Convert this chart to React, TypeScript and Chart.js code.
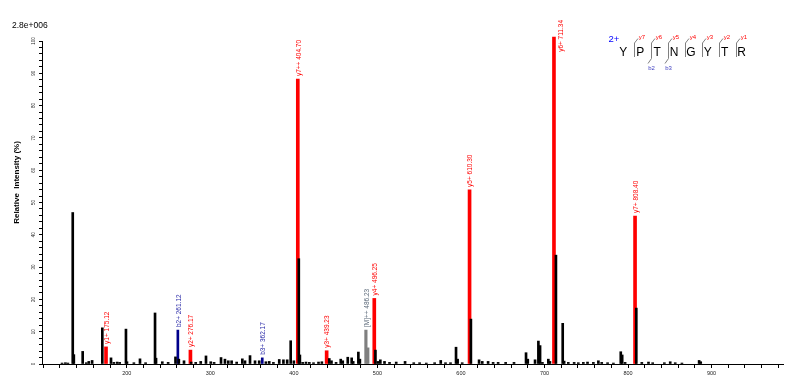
import React, { useEffect, useRef } from 'react';
import { Chart, registerables } from 'chart.js';

Chart.register(...registerables);

// ---- data ----
const otherMz = [122.5,126.5,129.5,135.3,136.6,147.2,151.5,154.5,158.5,170.7,
  181.1,184.5,188.5,191.5,199.0,200.2,208.5,215.8,222.5,233.8,
  235.0,242.5,249.5,258.3,262.3,268.5,277.0,282.5,288.5,294.8,
  300.5,304.5,312.8,317.5,321.5,325.5,331.5,338.3,341.5,347.5,
  353.5,358.5,366.5,370.5,375.5,382.5,387.5,392.0,396.2,400.0,
  405.9,407.2,410.5,414.5,418.5,423.5,429.5,433.5,442.4,445.0,
  450.5,456.1,458.5,464.5,469.2,471.0,477.2,479.0,497.6,500.5,
  503.5,508.5,514.5,522.5,533.1,543.5,550.5,558.5,568.5,575.8,
  581.5,587.5,594.1,596.0,601.5,611.9,621.7,625.5,632.5,638.5,
  644.5,653.5,663.5,677.9,680.0,688.7,692.7,694.7,697.5,704.6,
  706.5,713.7,721.8,723.5,728.5,735.5,740.5,746.5,751.5,758.5,
  764.5,768.5,775.5,782.5,791.3,793.0,796.5,809.9,816.5,824.5,
  829.5,843.5,850.5,856.5,864.5,885.1,887.0];
const otherIntensity = [0.3,0.4,0.3,46.9,2.9,3.9,0.4,0.8,1.1,11.2,
  1.9,0.5,0.6,0.5,10.8,0.7,0.4,1.6,0.4,15.8,
  1.8,0.7,0.5,2.2,1.5,1.0,0.6,0.5,0.8,2.5,
  0.7,0.5,2.0,1.5,1.0,1.0,0.6,1.6,1.0,2.6,
  1.0,1.0,0.7,0.8,0.5,1.4,1.3,1.3,7.2,1.0,
  32.6,2.8,0.5,0.6,0.5,0.4,0.6,0.7,1.7,1.0,
  0.5,1.5,1.0,2.1,1.9,0.8,3.7,1.5,4.3,0.8,
  1.3,0.8,0.5,0.6,0.8,0.4,0.4,0.3,0.4,1.1,
  0.4,0.4,5.2,1.5,0.4,13.9,1.3,0.8,0.8,0.5,
  0.5,0.5,0.5,3.5,1.5,1.3,7.1,5.7,0.5,1.5,
  0.8,33.7,12.6,0.9,0.5,0.5,0.4,0.5,0.6,0.5,
  1.0,0.5,0.4,0.3,3.8,2.8,0.5,17.3,0.5,0.6,
  0.4,0.4,0.7,0.4,0.3,1.1,0.7];

const yIonMz = [175.12, 276.17, 404.70, 439.23, 496.25, 610.30, 711.34, 808.40];
const yIonIntensity = [5.3, 4.3, 88.2, 4.1, 20.3, 53.9, 101.2, 45.8];
const yIonLabels = ['y1+ 175.12', 'y2+ 276.17', 'y7++ 404.70', 'y3+ 439.23', 'y4+ 496.25', 'y5+ 610.30', 'y6+ 711.34', 'y7+ 808.40'];

const bIonMz = [261.12, 362.17];
const bIonIntensity = [10.5, 1.9];
const bIonLabels = ['b2+ 261.12', 'b3+ 362.17'];

const precursorMz = [486.23, 488.5];
const precursorIntensity = [10.5, 5.0];
const precursorLabels = ['[M]++ 486.23', ''];

const xTickValues: number[] = [];
for (let v = 100; v <= 980; v += 20) xTickValues.push(v);
const yTickValues: number[] = [];
for (let v = 0; v <= 100; v += 2) yTickValues.push(v);

const sequence = ['Y', 'P', 'T', 'N', 'G', 'Y', 'T', 'R'];
const yFragNames = ['y7', 'y6', 'y5', 'y4', 'y3', 'y2', 'y1'];
const bFragNames: Record<number, string> = { 2: 'b2', 3: 'b3' };
const scaleLabel = '2.8e+006';
const yTitle = 'Relative  Intensity (%)';
const chargeLabel = '2+';

const FONT = '"Liberation Sans", Arial, sans-serif';

const toPoints = (mz: number[], it: number[]) => mz.map((m, i) => ({ x: m, y: it[i] }));

const annotPlugin = {
  id: 'annot',
  afterDatasetsDraw(chart: any) {
    const ctx = chart.ctx as CanvasRenderingContext2D;
    ctx.save();
    // peak labels
    chart.data.datasets.forEach((ds: any, di: number) => {
      const labels: string[] | undefined = ds.peakLabels;
      if (!labels) return;
      const meta = chart.getDatasetMeta(di);
      meta.data.forEach((el: any, j: number) => {
        const text = labels[j];
        if (!text) return;
        ctx.font = `6.5px ${FONT}`;
        const w = ctx.measureText(text).width;
        let x = el.x + 1;
        let start = el.y - 3;
        if (start - w < 16) {
          x = el.x + 7;
          start = 20 + w;
        }
        ctx.save();
        ctx.translate(x, start);
        ctx.rotate(-Math.PI / 2);
        ctx.fillStyle = ds.labelColor;
        ctx.textAlign = 'left';
        ctx.textBaseline = 'middle';
        ctx.fillText(text, 0, 0);
        ctx.restore();
      });
    });

    // scale label top-left
    ctx.font = `8.5px ${FONT}`;
    ctx.fillStyle = '#000';
    ctx.textAlign = 'left';
    ctx.textBaseline = 'middle';
    ctx.fillText(scaleLabel, 12, 25.5);

    // y title
    ctx.save();
    ctx.translate(17, 182.5);
    ctx.rotate(-Math.PI / 2);
    ctx.font = `bold 8px ${FONT}`;
    ctx.textAlign = 'center';
    ctx.textBaseline = 'middle';
    ctx.fillStyle = '#000';
    ctx.fillText(yTitle, 0, 0);
    ctx.restore();

    // peptide diagram
    const x0 = 623.3, dx = 16.9, ly = 52.5;
    ctx.font = `12px ${FONT}`;
    ctx.textAlign = 'center';
    ctx.textBaseline = 'middle';
    ctx.fillStyle = '#000';
    sequence.forEach((r, i) => ctx.fillText(r, x0 + i * dx, ly));
    ctx.font = `9.5px ${FONT}`;
    ctx.fillStyle = '#0000ff';
    ctx.fillText(chargeLabel, 614, 39);
    ctx.strokeStyle = '#808080';
    ctx.lineWidth = 1;
    for (let i = 1; i < sequence.length; i++) {
      const sx = Math.round(x0 + i * dx - 6) + 0.5;
      const hasB = bFragNames[i] !== undefined;
      ctx.beginPath();
      ctx.moveTo(sx + 3.5, 38.5);
      ctx.lineTo(sx, 43);
      ctx.lineTo(sx, hasB ? 58.5 : 57);
      if (hasB) ctx.lineTo(sx - 3.5, 63.5);
      ctx.stroke();
      ctx.font = `6px ${FONT}`;
      ctx.fillStyle = '#ff0000';
      ctx.fillText(yFragNames[i - 1], sx + 7.5, 37.5);
      if (hasB) {
        ctx.fillStyle = '#4040c0';
        ctx.fillText(bFragNames[i], sx, 68.5);
      }
    }
    ctx.restore();
  },
};

export default function App() {
  const ref = useRef<HTMLCanvasElement>(null);
  useEffect(() => {
    if (!ref.current) return;
    Chart.defaults.font.family = FONT;
    const chart = new Chart(ref.current, {
      type: 'bar',
      data: {
        datasets: [
          {
            data: toPoints(otherMz, otherIntensity),
            backgroundColor: '#000000',
            barThickness: 2,
            grouped: false,
            clip: false,
          } as any,
          {
            data: toPoints(bIonMz, bIonIntensity),
            backgroundColor: '#00008b',
            barThickness: 2,
            grouped: false,
            clip: false,
            peakLabels: bIonLabels,
            labelColor: '#2a2aa8',
          } as any,
          {
            data: toPoints(precursorMz, precursorIntensity),
            backgroundColor: '#7f7f7f',
            barThickness: 2.5,
            grouped: false,
            clip: false,
            peakLabels: precursorLabels,
            labelColor: '#5a6878',
          } as any,
          {
            data: toPoints(yIonMz, yIonIntensity),
            backgroundColor: '#ff0000',
            barThickness: 3,
            grouped: false,
            clip: false,
            peakLabels: yIonLabels,
            labelColor: '#ff0000',
          } as any,
        ],
      },
      options: {
        responsive: false,
        animation: false,
        devicePixelRatio: 1,
        layout: { padding: { left: 0, right: 17, top: 41, bottom: 0 } },
        plugins: { legend: { display: false }, tooltip: { enabled: false }, title: { display: false } },
        scales: {
          x: {
            type: 'linear',
            min: 98.5,
            max: 985.5,
            offset: false,
            grid: { display: true, drawOnChartArea: false, drawTicks: true, tickLength: 4, color: '#000', offset: false },
            border: { display: true, color: '#000', width: 1 },
            ticks: {
              autoSkip: false,
              maxRotation: 0,
              minRotation: 0,
              padding: 2,
              color: '#222',
              font: { size: 5.5, family: FONT },
              callback: (v: any) => (Number(v) % 100 === 0 && Number(v) >= 200 ? String(v) : ''),
            },
            afterBuildTicks: (s: any) => { s.ticks = xTickValues.map((v) => ({ value: v })); },
            afterFit: (s: any) => { s.height = 22; },
          },
          y: {
            type: 'linear',
            min: 0,
            max: 100,
            grid: { display: true, drawOnChartArea: false, drawTicks: true, tickLength: 3, color: '#000' },
            border: { display: true, color: '#000', width: 1 },
            ticks: {
              autoSkip: false,
              minRotation: 90,
              maxRotation: 90,
              crossAlign: 'center',
              padding: 1,
              color: '#222',
              font: { size: 4.5, family: FONT },
              callback: (v: any) => (Number(v) % 10 === 0 ? String(v) : ''),
            },
            afterBuildTicks: (s: any) => { s.ticks = yTickValues.map((v) => ({ value: v })); },
            afterFit: (s: any) => { s.width = 42; },
          },
        },
      } as any,
      plugins: [annotPlugin],
    });
    return () => chart.destroy();
  }, []);
  return (
    <div style={{ position: 'fixed', left: 0, top: 0, width: 800, height: 386, background: '#fff' }}>
      <canvas ref={ref} width={800} height={386} style={{ display: 'block', width: 800, height: 386 }} />
    </div>
  );
}
